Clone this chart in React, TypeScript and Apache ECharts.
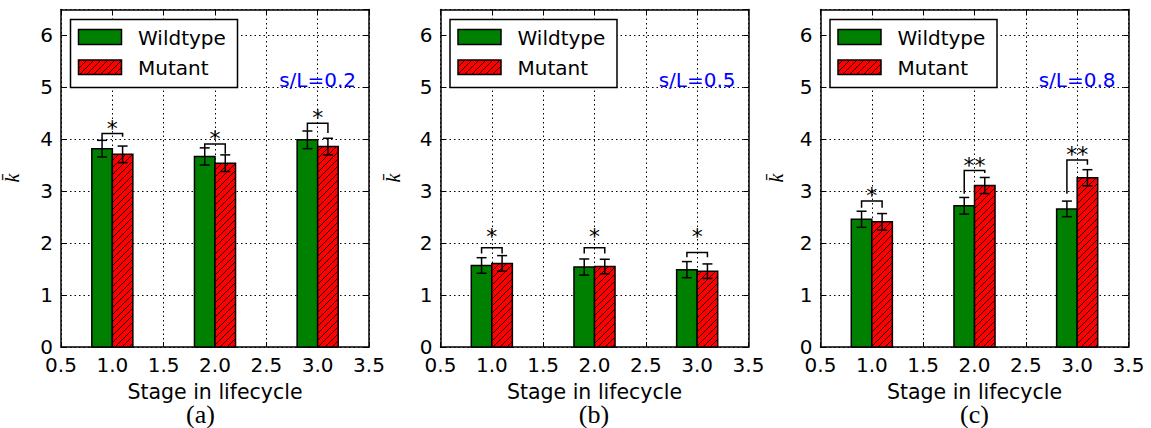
import React, { useEffect, useRef } from "react";
import * as echarts from "echarts";

// ---------- data ----------
const stages = [1, 2, 3];
const xTickMin = 0.5;
const xTickMax = 3.5;
const xTickStep = 0.5;
const yTickMin = 0;
const yTickMax = 6.5;
const yTickStep = 1;
const seriesNames = ["Wildtype", "Mutant"];
const xAxisTitle = "Stage in lifecycle";
const yAxisTitle = "k\u0304";
const panelLabels = ["(a)", "(b)", "(c)"];
const ratioLabels = ["s/L=0.2", "s/L=0.5", "s/L=0.8"];

// panel (a) s/L = 0.2
const wildtypeA = [3.82, 3.67, 3.99];
const wildtypeErrA = [0.16, 0.165, 0.17];
const mutantA = [3.71, 3.54, 3.86];
const mutantErrA = [0.16, 0.16, 0.16];
const bracketTopA = [4.11, 3.91, 4.31];
const bracketLeftEndA = [3.99, 3.83, 4.17];
const bracketRightEndA = [4.05, 3.72, 4.12];
const starsA = ["*", "*", "*"];
const starYA = [4.31, 4.12, 4.51];

// panel (b) s/L = 0.5
const wildtypeB = [1.57, 1.54, 1.49];
const wildtypeErrB = [0.15, 0.155, 0.155];
const mutantB = [1.61, 1.55, 1.46];
const mutantErrB = [0.15, 0.14, 0.14];
const bracketTopB = [1.91, 1.91, 1.82];
const bracketLeftEndB = [1.8, 1.8, 1.73];
const bracketRightEndB = [1.8, 1.8, 1.73];
const starsB = ["*", "*", "*"];
const starYB = [2.22, 2.22, 2.22];

// panel (c) s/L = 0.8
const wildtypeC = [2.46, 2.72, 2.66];
const wildtypeErrC = [0.155, 0.16, 0.15];
const mutantC = [2.41, 3.11, 3.26];
const mutantErrC = [0.16, 0.155, 0.155];
const bracketTopC = [2.81, 3.4, 3.6];
const bracketLeftEndC = [2.68, 2.95, 2.95];
const bracketRightEndC = [2.68, 3.35, 3.51];
const starsC = ["*", "**", "**"];
const starYC = [3.01, 3.6, 3.81];

const panels = [
  { wt: wildtypeA, wtErr: wildtypeErrA, mu: mutantA, muErr: mutantErrA, bTop: bracketTopA, bL: bracketLeftEndA, bR: bracketRightEndA, stars: starsA, starY: starYA },
  { wt: wildtypeB, wtErr: wildtypeErrB, mu: mutantB, muErr: mutantErrB, bTop: bracketTopB, bL: bracketLeftEndB, bR: bracketRightEndB, stars: starsB, starY: starYB },
  { wt: wildtypeC, wtErr: wildtypeErrC, mu: mutantC, muErr: mutantErrC, bTop: bracketTopC, bL: bracketLeftEndC, bR: bracketRightEndC, stars: starsC, starY: starYC },
];

// ---------- layout / style ----------
const FONT = "DejaVu Sans";
const BAR_HALF = 0.1;
const OFFSET = 0.1;
const panelLefts = [61, 440.5, 820.5];
const panelLabelX = [200.5, 594, 974.5];
const yTitleX = [12, 393, 776];
const GRID_TOP = 9.5;
const GRID_W = 308;
const GRID_H = 337.5;
const GREEN = "#008000";
const RED = "#ff0000";

const hatchSvg =
  '<svg xmlns="http://www.w3.org/2000/svg" width="7" height="7">' +
  '<rect width="7" height="7" fill="' + RED + '"/>' +
  '<path d="M0,7 L7,0 M-1,1 L1,-1 M6,8 L8,6" stroke="#000" stroke-width="0.9"/>' +
  "</svg>";
const hatchUrl = "data:image/svg+xml;charset=utf-8," + encodeURIComponent(hatchSvg);
const hatch: any = { image: hatchUrl, repeat: "repeat", imageWidth: 7, imageHeight: 7 };

function barRender(fill: any) {
  return (params: any, api: any) => {
    const x = api.value(0);
    const y = api.value(1);
    const p0 = api.coord([x - BAR_HALF, y]);
    const p1 = api.coord([x + BAR_HALF, 0]);
    return {
      type: "rect",
      shape: { x: p0[0], y: p0[1], width: p1[0] - p0[0], height: p1[1] - p0[1] },
      style: { fill, stroke: "#000", lineWidth: 1.5 },
    };
  };
}

function errRender(params: any, api: any) {
  const x = api.value(0);
  const y = api.value(1);
  const e = api.value(2);
  const top = api.coord([x, y + e]);
  const bot = api.coord([x, y - e]);
  const cap = 5;
  const st = { stroke: "#000", lineWidth: 1.5 };
  return {
    type: "group",
    children: [
      { type: "line", shape: { x1: top[0], y1: top[1], x2: bot[0], y2: bot[1] }, style: st },
      { type: "line", shape: { x1: top[0] - cap, y1: top[1], x2: top[0] + cap, y2: top[1] }, style: st },
      { type: "line", shape: { x1: bot[0] - cap, y1: bot[1], x2: bot[0] + cap, y2: bot[1] }, style: st },
    ],
  };
}

function bracketRender(params: any, api: any) {
  const xl = api.value(0);
  const xr = api.value(1);
  const top = api.value(2);
  const le = api.value(3);
  const re = api.value(4);
  const pts = [api.coord([xl, le]), api.coord([xl, top]), api.coord([xr, top]), api.coord([xr, re])];
  return { type: "polyline", shape: { points: pts }, style: { stroke: "#000", lineWidth: 1.5, fill: "none" } };
}

function starRender(labels: string[]) {
  return (params: any, api: any) => {
    const p = api.coord([api.value(0), api.value(1)]);
    return {
      type: "text",
      x: p[0],
      y: p[1] + 5,
      style: { text: labels[params.dataIndex], fontSize: 22, fontFamily: FONT, fill: "#000", align: "center", verticalAlign: "middle" },
    };
  };
}

export default function App() {
  const ref = useRef<HTMLDivElement>(null);

  useEffect(() => {
    if (!ref.current) return;
    const chart = echarts.init(ref.current, undefined, { renderer: "svg" });

    const grid: any[] = [];
    const xAxis: any[] = [];
    const yAxis: any[] = [];
    const series: any[] = [];
    const graphic: any[] = [];

    const axisLine = { show: true, onZero: false, lineStyle: { color: "#000", width: 1.5 } };
    const tick = { show: true, inside: true, length: 5, lineStyle: { color: "#000", width: 1 } };
    const split = { show: true, lineStyle: { color: "#000", width: 1, type: [1.5, 3] } };

    panels.forEach((pd, p) => {
      const L = panelLefts[p];
      grid.push({ left: L, top: GRID_TOP, width: GRID_W, height: GRID_H, containLabel: false });
      xAxis.push({
        type: "value", gridIndex: p, position: "bottom", min: xTickMin, max: xTickMax, interval: xTickStep,
        axisLine, axisTick: tick, splitLine: split,
        axisLabel: { show: true, fontSize: 20, fontFamily: FONT, color: "#000", margin: 8, formatter: (v: number) => v.toFixed(1) },
      });
      xAxis.push({
        type: "value", gridIndex: p, position: "top", min: xTickMin, max: xTickMax, interval: xTickStep,
        axisLine, axisTick: tick, splitLine: { show: false }, axisLabel: { show: false },
      });
      yAxis.push({
        type: "value", gridIndex: p, position: "left", min: yTickMin, max: yTickMax, interval: yTickStep,
        axisLine, axisTick: tick, splitLine: split,
        axisLabel: { show: true, fontSize: 20, fontFamily: FONT, color: "#000", margin: 8, showMaxLabel: false },
      });
      yAxis.push({
        type: "value", gridIndex: p, position: "right", min: yTickMin, max: yTickMax, interval: yTickStep,
        axisLine, axisTick: tick, splitLine: { show: false }, axisLabel: { show: false },
      });
      const xi = p * 2;
      const yi = p * 2;
      series.push({
        type: "custom", name: seriesNames[0], xAxisIndex: xi, yAxisIndex: yi, z: 3, clip: false,
        renderItem: barRender(GREEN), data: stages.map((s, i) => [s - OFFSET, pd.wt[i]]),
      });
      series.push({
        type: "custom", name: seriesNames[1], xAxisIndex: xi, yAxisIndex: yi, z: 3, clip: false,
        renderItem: barRender(hatch), data: stages.map((s, i) => [s + OFFSET, pd.mu[i]]),
      });
      series.push({
        type: "custom", name: "err", xAxisIndex: xi, yAxisIndex: yi, z: 4, clip: false, renderItem: errRender,
        data: [
          ...stages.map((s, i) => [s - OFFSET, pd.wt[i], pd.wtErr[i]]),
          ...stages.map((s, i) => [s + OFFSET, pd.mu[i], pd.muErr[i]]),
        ],
      });
      series.push({
        type: "custom", name: "bracket", xAxisIndex: xi, yAxisIndex: yi, z: 4, clip: false, renderItem: bracketRender,
        data: stages.map((s, i) => [s - OFFSET, s + OFFSET, pd.bTop[i], pd.bL[i], pd.bR[i]]),
      });
      series.push({
        type: "custom", name: "stars", xAxisIndex: xi, yAxisIndex: yi, z: 4, clip: false, renderItem: starRender(pd.stars),
        data: stages.map((s, i) => [s, pd.starY[i]]),
      });

      graphic.push(
        { type: "rect", z: 100, shape: { x: L + 9.5, y: 19.5, width: 167, height: 68 }, style: { fill: "#fff", stroke: "#000", lineWidth: 1.5 } },
        { type: "rect", z: 101, shape: { x: L + 17.5, y: 29.5, width: 43, height: 15 }, style: { fill: GREEN, stroke: "#000", lineWidth: 1.5 } },
        { type: "rect", z: 101, shape: { x: L + 17.5, y: 60, width: 43, height: 14.5 }, style: { fill: hatch, stroke: "#000", lineWidth: 1.5 } },
        { type: "text", z: 101, x: L + 77, y: 37.5, style: { text: seriesNames[0], fontSize: 20, fontFamily: FONT, fill: "#000", verticalAlign: "middle" } },
        { type: "text", z: 101, x: L + 77, y: 67.5, style: { text: seriesNames[1], fontSize: 20, fontFamily: FONT, fill: "#000", verticalAlign: "middle" } },
        { type: "text", z: 101, x: L + 295, y: 80, style: { text: ratioLabels[p], fontSize: 20, fontFamily: FONT, fill: "#0000ff", align: "right", verticalAlign: "middle" } },
        { type: "text", z: 101, x: L + GRID_W / 2, y: 392, style: { text: xAxisTitle, fontSize: 20.5, fontFamily: FONT, fill: "#000", align: "center", verticalAlign: "middle" } },
        { type: "text", z: 101, x: panelLabelX[p], y: 414, style: { text: panelLabels[p], fontSize: 26, fontFamily: "Liberation Serif", fill: "#000", align: "center", verticalAlign: "middle" } },
        { type: "text", z: 101, x: yTitleX[p], y: 178, rotation: Math.PI / 2, style: { text: yAxisTitle, fontSize: 20, fontStyle: "italic", fontFamily: "Liberation Serif", fill: "#000", align: "center", verticalAlign: "middle" } },
      );
    });

    chart.setOption({
      animation: false,
      backgroundColor: "#fff",
      textStyle: { fontFamily: FONT },
      grid,
      xAxis,
      yAxis,
      series,
      graphic,
    });
    return () => chart.dispose();
  }, []);

  return <div ref={ref} style={{ position: "fixed", left: 0, top: 0, width: 1151, height: 428 }} />;
}
